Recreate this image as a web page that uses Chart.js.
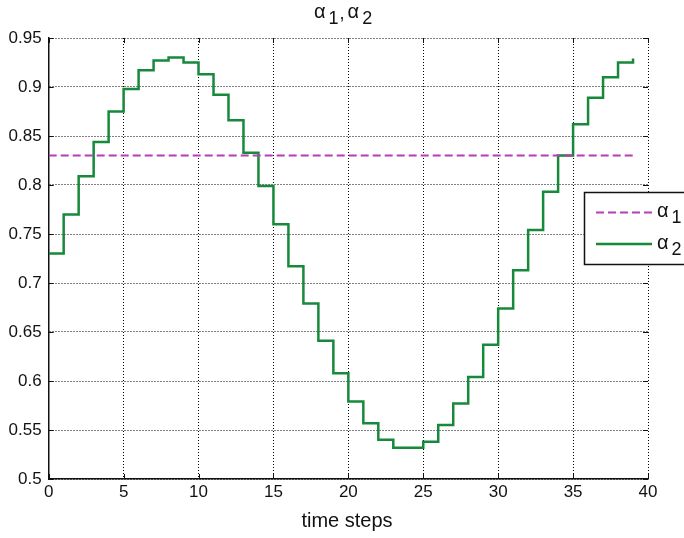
<!DOCTYPE html>
<html>
<head>
<meta charset="utf-8">
<script src="https://cdn.jsdelivr.net/npm/chart.js@4"></script>
<style>
html,body{margin:0;padding:0;background:#fff;}
#wrap{width:684px;height:538px;position:relative;}
</style>
</head>
<body>
<div id="wrap"><canvas id="c" width="684" height="538"></canvas></div>
<script>
// ---- data ----
const timeSteps = [0,1,2,3,4,5,6,7,8,9,10,11,12,13,14,15,16,17,18,19,20,21,22,23,24,25,26,27,28,29,30,31,32,33,34,35,36,37,38,39];
const alpha2 = [0.730,0.770,0.809,0.844,0.875,0.898,0.917,0.927,0.930,0.925,
                0.913,0.892,0.866,0.833,0.799,0.760,0.717,0.679,0.641,0.608,
                0.579,0.557,0.540,0.532,0.532,0.538,0.555,0.577,0.604,0.637,
                0.674,0.713,0.754,0.793,0.830,0.862,0.889,0.910,0.925,0.929];
const alpha1Steps = [0, 39];
const alpha1 = [0.83, 0.83];
const xTicks = [0,5,10,15,20,25,30,35,40];
const yTicks = [0.5,0.55,0.6,0.65,0.7,0.75,0.8,0.85,0.9,0.95];
const seriesNames = ['1','2']; // subscripts of α
const titleText = 'time steps';

const green = '#16893b';
const magenta = '#b53db5';
const FONT = '"Liberation Sans", Arial, sans-serif';

function drawAlpha(ctx, x, y, sub, size) {
  ctx.font = size + 'px ' + FONT;
  ctx.textBaseline = 'alphabetic';
  ctx.textAlign = 'left';
  ctx.fillText('α', x, y);
  const w = ctx.measureText('α').width;
  ctx.font = Math.round(size*0.9) + 'px ' + FONT;
  ctx.fillText(sub, x + w + 3, y + 6);
  return w + 3 + ctx.measureText(sub).width;
}

const decor = {
  id: 'decor',
  afterDatasetsDraw(chart) {
    const ctx = chart.ctx;
    const xs = chart.scales.x, ys = chart.scales.y;
    const a = chart.chartArea;
    ctx.save();
    // inward tick marks
    ctx.strokeStyle = '#111';
    ctx.lineWidth = 1;
    ctx.beginPath();
    xTicks.forEach(v => {
      const px = Math.round(xs.getPixelForValue(v)) + 0.5;
      ctx.moveTo(px, a.bottom); ctx.lineTo(px, a.bottom - 5);
      ctx.moveTo(px, a.top); ctx.lineTo(px, a.top + 5);
    });
    yTicks.forEach(v => {
      const py = Math.round(ys.getPixelForValue(v)) + 0.5;
      ctx.moveTo(a.left, py); ctx.lineTo(a.left + 5, py);
      ctx.moveTo(a.right, py); ctx.lineTo(a.right - 5, py);
    });
    ctx.stroke();

    // title
    ctx.fillStyle = '#111';
    let tx = 314, ty = 18;
    let w = drawAlpha(ctx, tx, ty, seriesNames[0], 20);
    ctx.font = '18px ' + FONT;
    ctx.fillText(',', tx + w + 1, ty + 1);
    drawAlpha(ctx, tx + w + 9, ty, seriesNames[1], 20);

    // x axis label
    ctx.font = '20px ' + FONT;
    ctx.textAlign = 'center';
    ctx.textBaseline = 'middle';
    ctx.fillText(titleText, 347, 521);

    // legend
    ctx.fillStyle = '#fff';
    ctx.fillRect(584.5, 192.5, 120, 72);
    ctx.strokeStyle = '#111';
    ctx.lineWidth = 1.5;
    ctx.strokeRect(584.5, 192.5, 120, 72);
    ctx.lineWidth = 2;
    ctx.strokeStyle = magenta;
    ctx.setLineDash([8,4]);
    ctx.beginPath(); ctx.moveTo(596, 212.5); ctx.lineTo(652, 212.5); ctx.stroke();
    ctx.setLineDash([]);
    ctx.lineWidth = 2.5;
    ctx.strokeStyle = green;
    ctx.beginPath(); ctx.moveTo(596, 244); ctx.lineTo(652, 244); ctx.stroke();
    ctx.fillStyle = '#111';
    drawAlpha(ctx, 657, 217, seriesNames[0], 20);
    drawAlpha(ctx, 657, 249, seriesNames[1], 20);
    ctx.restore();
  }
};

new Chart(document.getElementById('c'), {
  type: 'line',
  data: {
    datasets: [
      {
        label: 'α1',
        data: alpha1Steps.map((x, i) => ({x: x, y: alpha1[i]})),
        borderColor: magenta,
        borderWidth: 2,
        borderDash: [8,4],
        pointRadius: 0,
        fill: false
      },
      {
        label: 'α2',
        data: timeSteps.map((x, i) => ({x: x, y: alpha2[i]})),
        borderColor: green,
        borderWidth: 2.5,
        stepped: 'before',
        pointRadius: 0,
        fill: false
      }
    ]
  },
  options: {
    responsive: false,
    animation: false,
    devicePixelRatio: 1,
    layout: { padding: { top: 38, right: 36, left: 0, bottom: 0 } },
    plugins: { legend: { display: false }, title: { display: false }, tooltip: { enabled: false } },
    scales: {
      x: {
        type: 'linear',
        min: 0, max: 40,
        afterBuildTicks(s) { s.ticks = xTicks.map(v => ({value: v})); },
        afterFit(s) { s.height = 59; },
        ticks: { color: '#111', font: { size: 17, family: FONT }, padding: 3, maxRotation: 0, autoSkip: false },
        grid: { color: '#000', lineWidth: 1, drawTicks: false },
        border: { display: true, color: '#111', width: 1.5, dash: [1,2] }
      },
      y: {
        min: 0.5, max: 0.95,
        afterBuildTicks(s) { s.ticks = yTicks.map(v => ({value: v})); },
        afterFit(s) { s.width = 48.7; },
        ticks: { color: '#111', font: { size: 17, family: FONT }, padding: 7, autoSkip: false,
                 callback: v => String(Math.round(v*100)/100) },
        grid: { color: '#000', lineWidth: 1, drawTicks: false },
        border: { display: true, color: '#111', width: 1.5, dash: [1,2] }
      }
    }
  },
  plugins: [decor]
});
</script>
</body>
</html>
